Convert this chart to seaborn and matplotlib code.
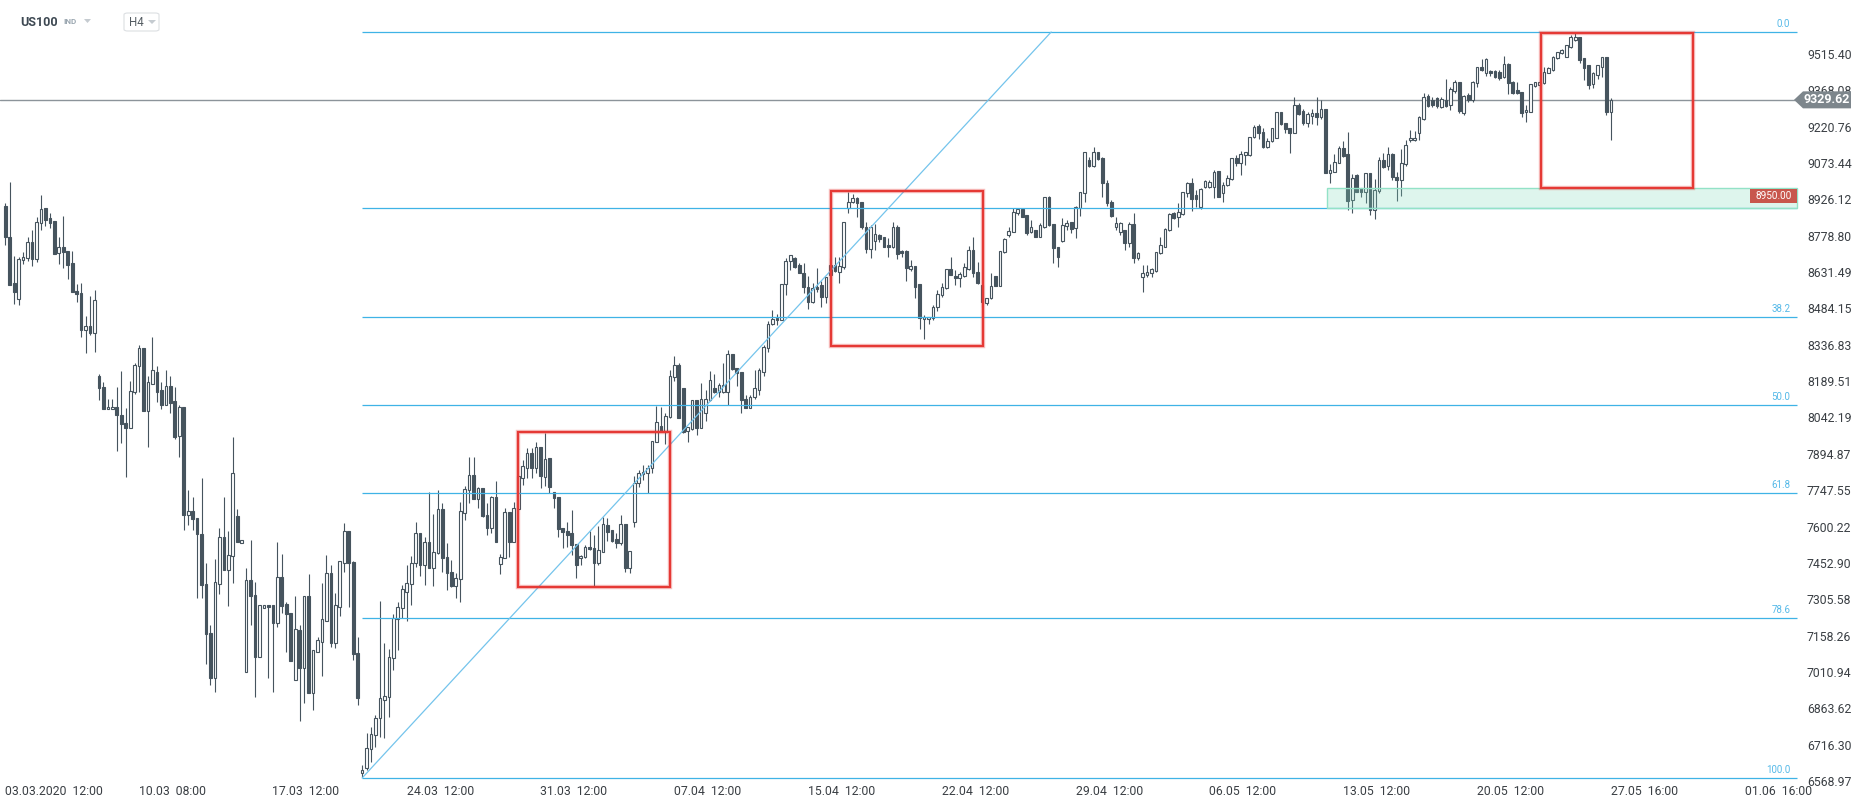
#%%
import seaborn as sns
import matplotlib.pyplot as plt
import matplotlib.transforms as mtransforms
from matplotlib.patches import Rectangle, Polygon, FancyBboxPatch
import numpy as np
import pandas as pd

# %%
# US100 H4 candles (one value per candle)
opens = [
    8898, 8773, 8587, 8523, 8680, 8688, 8753, 8684, 8829, 8890,
    8849, 8837, 8708, 8732, 8716, 8668, 8554, 8546, 8398, 8411,
    8386, 8212, 8164, 8075, 8075, 8083, 8051, 8020, 8001, 8144,
    8249, 8323, 8070, 8179, 8228, 8152, 8091, 8168, 8108, 7966,
    8084, 7647, 7663, 7634, 7570, 7369, 7169, 6985, 7369, 7557,
    7426, 7480, 7642, 7535, 7009, 7385, 7321, 7073, 7272, 7282,
    7282, 7211, 7396, 7286, 7249, 6977, 7181, 7028, 7319, 6927,
    7093, 7134, 7219, 7411, 7127, 7276, 7451, 7582, 7455, 7086,
    6603, 6620, 6697, 6755, 6823, 6897, 6911, 7066, 7224, 7269,
    7336, 7366, 7451, 7573, 7444, 7536, 7431, 7492, 7670, 7475,
    7417, 7361, 7386, 7657, 7748, 7809, 7713, 7755, 7647, 7596,
    7721, 7447, 7474, 7658, 7539, 7672, 7798, 7839, 7897, 7836,
    7924, 7802, 7877, 7742, 7721, 7593, 7584, 7573, 7530, 7471,
    7475, 7516, 7512, 7451, 7498, 7607, 7586, 7550, 7532, 7611,
    7431, 7617, 7775, 7813, 7816, 7836, 7944, 8008, 7989, 8043,
    8205, 8255, 8160, 7989, 7994, 8113, 7998, 8059, 8113, 8160,
    8147, 8144, 8147, 8300, 8241, 8228, 8116, 8079, 8124, 8154,
    8228, 8323, 8421, 8446, 8437, 8582, 8678, 8687, 8660, 8629,
    8573, 8512, 8573, 8579, 8529, 8618, 8659, 8633, 8654, 8890,
    8914, 8931, 8914, 8816, 8725, 8756, 8782, 8772, 8741, 8732,
    8813, 8717, 8718, 8644, 8656, 8582, 8440, 8440, 8444, 8489,
    8539, 8566, 8644, 8617, 8606, 8617, 8644, 8721, 8633, 8579,
    8505, 8525, 8616, 8577, 8712, 8782, 8795, 8872, 8886, 8863,
    8793, 8802, 8775, 8816, 8937, 8826, 8732, 8759, 8818, 8833,
    8809, 8890, 8951, 9086, 9062, 9117, 9093, 8994, 8917, 8816,
    8795, 8802, 8751, 8826, 8687, 8610, 8620, 8627, 8637, 8708,
    8735, 8802, 8870, 8853, 8867, 8951, 8991, 8944, 8897, 8978,
    8978, 8978, 9041, 8951, 8985, 9008, 9093, 9075, 9106, 9106,
    9178, 9224, 9201, 9137, 9164, 9174, 9279, 9237, 9214, 9197,
    9309, 9286, 9234, 9266, 9275, 9261, 9291, 9032, 9039, 9075,
    9133, 9110, 8924, 9025, 8971, 8957, 9032, 8883, 8962, 9086,
    9062, 9110, 9018, 9005, 9070, 9167, 9167, 9194, 9251, 9345,
    9329, 9336, 9302, 9329, 9309, 9365, 9403, 9278, 9349, 9329,
    9399, 9461, 9440, 9448, 9448, 9444, 9421, 9475, 9403, 9370,
    9363, 9279, 9282, 9387, 9390, 9397, 9440, 9451, 9498, 9518,
    9505, 9545, 9572, 9586, 9498, 9471, 9393, 9430, 9464, 9502,
    9282,
]
highs = [
    8913, 8995, 8696, 8693, 8711, 8773, 8801, 8853, 8943, 8890,
    8871, 8837, 8773, 8858, 8716, 8716, 8583, 8587, 8453, 8535,
    8559, 8219, 8187, 8118, 8118, 8166, 8230, 8081, 8190, 8264,
    8336, 8323, 8211, 8368, 8251, 8188, 8235, 8211, 8166, 8092,
    8084, 7748, 7720, 7634, 7797, 7453, 7201, 7467, 7594, 7720,
    7583, 7962, 7671, 7544, 7432, 7546, 7376, 7281, 7281, 7282,
    7282, 7536, 7489, 7296, 7249, 7319, 7201, 7319, 7408, 7100,
    7154, 7370, 7485, 7443, 7330, 7459, 7615, 7582, 7461, 7151,
    6634, 6762, 6786, 6836, 7298, 7127, 7103, 7244, 7296, 7363,
    7444, 7482, 7617, 7573, 7559, 7742, 7651, 7748, 7697, 7532,
    7465, 7411, 7701, 7765, 7881, 7881, 7762, 7755, 7694, 7725,
    7785, 7489, 7674, 7658, 7698, 7810, 7870, 7920, 7917, 7944,
    7924, 7981, 7877, 7742, 7721, 7593, 7620, 7667, 7530, 7485,
    7525, 7584, 7566, 7602, 7640, 7634, 7586, 7573, 7647, 7611,
    7501, 7805, 7829, 7850, 7850, 7948, 8090, 8083, 8059, 8235,
    8291, 8262, 8160, 8005, 8113, 8113, 8181, 8154, 8229, 8219,
    8181, 8262, 8316, 8300, 8241, 8228, 8133, 8133, 8235, 8241,
    8336, 8435, 8478, 8462, 8582, 8687, 8701, 8691, 8667, 8667,
    8616, 8586, 8647, 8597, 8613, 8687, 8691, 8691, 8836, 8958,
    8948, 8937, 8917, 8836, 8822, 8826, 8786, 8775, 8771, 8836,
    8822, 8721, 8721, 8681, 8656, 8582, 8458, 8451, 8498, 8559,
    8589, 8644, 8691, 8640, 8633, 8667, 8739, 8775, 8671, 8579,
    8525, 8627, 8616, 8717, 8768, 8816, 8890, 8890, 8890, 8863,
    8843, 8802, 8832, 8935, 8940, 8826, 8732, 8849, 8843, 8836,
    8899, 8958, 9120, 9097, 9137, 9117, 9097, 9005, 8924, 8853,
    8836, 8802, 8836, 8870, 8714, 8660, 8660, 8647, 8714, 8775,
    8809, 8870, 8876, 8913, 8955, 8998, 9012, 8964, 8971, 9005,
    9005, 9045, 9041, 8998, 9025, 9093, 9106, 9124, 9120, 9180,
    9228, 9232, 9214, 9174, 9214, 9279, 9279, 9237, 9214, 9340,
    9316, 9291, 9282, 9291, 9343, 9329, 9291, 9070, 9110, 9143,
    9164, 9198, 9029, 9029, 8971, 9032, 9032, 9007, 9099, 9113,
    9140, 9113, 9039, 9129, 9167, 9207, 9205, 9266, 9356, 9353,
    9340, 9343, 9340, 9414, 9383, 9410, 9403, 9349, 9356, 9406,
    9464, 9494, 9498, 9451, 9451, 9451, 9507, 9478, 9407, 9403,
    9363, 9309, 9393, 9403, 9410, 9461, 9464, 9507, 9525, 9534,
    9552, 9592, 9600, 9586, 9498, 9471, 9444, 9471, 9505, 9502,
    9336,
]
lows = [
    8741, 8581, 8504, 8499, 8663, 8677, 8656, 8674, 8802, 8817,
    8812, 8703, 8666, 8650, 8605, 8549, 8512, 8369, 8305, 8378,
    8309, 8115, 8078, 8075, 8075, 7908, 7940, 7802, 8001, 8136,
    8144, 8070, 7921, 8176, 8107, 8075, 8091, 8062, 7954, 7884,
    7587, 7608, 7587, 7312, 7312, 7044, 6956, 6929, 7325, 7426,
    7280, 7371, 7536, 7535, 7009, 7203, 6911, 7073, 7272, 6988,
    6931, 7194, 7249, 7093, 7057, 6977, 6813, 6886, 6927, 6858,
    7093, 6996, 7219, 7113, 7109, 7239, 7415, 7276, 7059, 6877,
    6584, 6614, 6647, 6708, 6749, 6742, 6830, 7019, 7100, 7228,
    7219, 7282, 7438, 7401, 7363, 7431, 7361, 7489, 7417, 7343,
    7354, 7309, 7296, 7627, 7697, 7713, 7674, 7638, 7566, 7573,
    7539, 7408, 7471, 7478, 7539, 7670, 7769, 7798, 7796, 7816,
    7755, 7765, 7738, 7674, 7559, 7512, 7519, 7485, 7390, 7444,
    7471, 7505, 7357, 7444, 7498, 7543, 7539, 7512, 7525, 7417,
    7411, 7597, 7762, 7789, 7738, 7819, 7944, 7989, 7935, 8039,
    8192, 8039, 7978, 7944, 7992, 7971, 7998, 8029, 8110, 8143,
    8127, 8143, 8093, 8235, 8171, 8062, 8079, 8079, 8116, 8133,
    8210, 8309, 8417, 8417, 8437, 8539, 8640, 8647, 8626, 8548,
    8481, 8505, 8552, 8491, 8508, 8589, 8632, 8586, 8643, 8872,
    8910, 8856, 8805, 8710, 8687, 8721, 8755, 8732, 8691, 8728,
    8683, 8694, 8597, 8637, 8525, 8400, 8360, 8420, 8437, 8475,
    8532, 8563, 8620, 8579, 8572, 8613, 8640, 8610, 8582, 8491,
    8498, 8521, 8577, 8577, 8708, 8775, 8795, 8863, 8853, 8782,
    8789, 8775, 8772, 8809, 8818, 8670, 8651, 8755, 8802, 8789,
    8768, 8859, 8917, 9059, 9059, 9086, 8935, 8899, 8853, 8802,
    8782, 8721, 8735, 8667, 8681, 8552, 8613, 8610, 8633, 8705,
    8732, 8798, 8845, 8816, 8863, 8935, 8879, 8897, 8886, 8971,
    8971, 8931, 8935, 8917, 8980, 9005, 9062, 9025, 9066, 9102,
    9174, 9170, 9133, 9133, 9160, 9174, 9228, 9197, 9116, 9197,
    9268, 9228, 9221, 9232, 9228, 9251, 9034, 8994, 9039, 9072,
    9097, 8883, 8872, 8957, 8937, 8910, 8863, 8845, 8951, 9052,
    9045, 9005, 8920, 8940, 9062, 9160, 9164, 9167, 9248, 9302,
    9299, 9295, 9295, 9299, 9288, 9359, 9275, 9268, 9322, 9322,
    9383, 9448, 9426, 9426, 9417, 9410, 9417, 9353, 9353, 9353,
    9261, 9241, 9282, 9383, 9374, 9394, 9437, 9448, 9494, 9514,
    9505, 9538, 9569, 9480, 9410, 9372, 9376, 9413, 9424, 9268,
    9167,
]
closes = [
    8773, 8581, 8549, 8684, 8692, 8753, 8684, 8834, 8886, 8844,
    8829, 8706, 8732, 8711, 8661, 8549, 8541, 8398, 8411, 8386,
    8517, 8160, 8078, 8084, 8084, 8051, 8014, 8001, 8148, 8254,
    8323, 8070, 8185, 8233, 8147, 8091, 8168, 8102, 7964, 8084,
    7647, 7663, 7631, 7570, 7365, 7164, 6985, 7374, 7557, 7426,
    7485, 7817, 7536, 7544, 7385, 7317, 7073, 7281, 7281, 7273,
    7211, 7396, 7280, 7244, 7057, 7184, 7028, 7319, 6927, 7100,
    7140, 7224, 7411, 7127, 7282, 7459, 7582, 7451, 7084, 6904,
    6614, 6701, 6758, 6823, 6904, 6913, 7070, 7231, 7273, 7348,
    7370, 7454, 7573, 7444, 7536, 7431, 7496, 7670, 7471, 7411,
    7361, 7390, 7663, 7751, 7809, 7713, 7755, 7643, 7596, 7721,
    7539, 7475, 7658, 7539, 7674, 7805, 7846, 7897, 7836, 7924,
    7805, 7873, 7762, 7715, 7589, 7580, 7566, 7525, 7444, 7481,
    7516, 7508, 7451, 7505, 7611, 7580, 7543, 7532, 7611, 7431,
    7501, 7778, 7816, 7823, 7839, 7948, 8025, 7989, 8048, 8210,
    8254, 8042, 7985, 8005, 8113, 7998, 8116, 8116, 8194, 8147,
    8174, 8174, 8300, 8237, 8224, 8113, 8079, 8127, 8160, 8235,
    8329, 8421, 8440, 8437, 8582, 8678, 8699, 8654, 8627, 8570,
    8512, 8566, 8562, 8529, 8610, 8659, 8636, 8658, 8835, 8917,
    8931, 8910, 8816, 8725, 8813, 8786, 8767, 8735, 8732, 8813,
    8705, 8708, 8647, 8656, 8572, 8444, 8451, 8448, 8489, 8543,
    8570, 8644, 8620, 8606, 8624, 8651, 8721, 8629, 8586, 8509,
    8525, 8577, 8577, 8717, 8766, 8799, 8876, 8886, 8856, 8791,
    8813, 8775, 8822, 8935, 8822, 8728, 8691, 8822, 8832, 8806,
    8894, 8958, 9117, 9062, 9117, 9089, 8991, 8913, 8859, 8832,
    8832, 8751, 8826, 8687, 8708, 8627, 8631, 8643, 8714, 8741,
    8805, 8866, 8849, 8874, 8955, 8994, 8926, 8926, 8967, 9002,
    8998, 9039, 8937, 8985, 9012, 9093, 9075, 9110, 9117, 9178,
    9221, 9197, 9137, 9164, 9214, 9279, 9232, 9210, 9194, 9309,
    9272, 9234, 9271, 9275, 9261, 9291, 9034, 9045, 9079, 9133,
    9102, 8921, 9012, 8957, 8957, 9032, 8883, 8964, 9086, 9059,
    9110, 9018, 9005, 9075, 9147, 9174, 9174, 9259, 9343, 9306,
    9309, 9305, 9332, 9305, 9372, 9403, 9286, 9345, 9329, 9403,
    9461, 9451, 9494, 9437, 9421, 9420, 9475, 9397, 9356, 9359,
    9278, 9288, 9393, 9401, 9403, 9444, 9457, 9502, 9522, 9532,
    9552, 9586, 9583, 9491, 9460, 9390, 9437, 9471, 9502, 9282,
    9330,
]

# axis labels
date_pos = [10.9, 37.4, 67.4, 97.5, 127.5, 157.5, 187.5, 217.5, 247.5, 277.5, 307.5, 337.5, 367.5, 397.5]
date_labels = ['03.03.2020  12:00', '10.03  08:00', '17.03  12:00', '24.03  12:00', '31.03  12:00',
               '07.04  12:00', '15.04  12:00', '22.04  12:00', '29.04  12:00', '06.05  12:00',
               '13.05  12:00', '20.05  12:00', '27.05  16:00', '01.06  16:00']
price_labels = ['6568.97', '6716.30', '6863.62', '7010.94', '7158.26', '7305.58', '7452.90',
                '7600.22', '7747.55', '7894.87', '8042.19', '8189.51', '8336.83', '8484.15',
                '8631.49', '8778.80', '8926.12', '9073.44', '9220.76', '9368.08', '9515.40']

# drawings on the chart
fib_start, fib_end = 80, 234.5          # candle index of the fib anchors
fib_low, fib_high = 6581.0, 9604.6
fib_levels = [0.0, 23.6, 38.2, 50.0, 61.8, 78.6, 100.0]
last_price = 9329.62
zone_start, zone_low, zone_high = 296.3, 8891, 8972
zone_label = 8950.00
boxes = [(115.0, 149.0, 7356, 7984), (185.2, 219.3, 8332, 8959), (344.3, 378.4, 8972, 9600)]

# %%
df = pd.DataFrame(dict(o=opens, h=highs, l=lows, c=closes))
df['i'] = np.arange(len(df))
df['up'] = df.c >= df.o

sns.set_theme(style='white')
plt.rcParams['font.family'] = ['Roboto', 'DejaVu Sans']

W, H = 1866, 811
fig = plt.figure(figsize=(W / 100, H / 100), dpi=100)
ax = fig.add_axes([0, 28 / H, 1800 / W, 783 / H])
ax.set_xlim(-1.19, 402.4)
ax.set_ylim(6560.8, 9734.3)
right_end = 401.7

ink = '#46545e'
blue = '#3fb3e6'

# candles
ax.vlines(df.i, df.l, df.h, color=ink, lw=0.8, zorder=2)
body_lo = np.minimum(df.o, df.c)
body_h = np.maximum((df.c - df.o).abs(), 1.0)
ax.bar(df.i, body_h, bottom=body_lo, width=0.6,
       color=np.where(df.up, 'white', ink), edgecolor=ink, linewidth=0.8, zorder=3)

# current price line
ax.axhline(last_price, color='#8c949a', lw=1.0, zorder=1.5)

# fibonacci retracement
fib_prices = [fib_high - lv / 100 * (fib_high - fib_low) for lv in fib_levels]
ax.hlines(fib_prices, fib_start, right_end, color=blue, lw=0.9, zorder=4)
for lv, p in zip(fib_levels, fib_prices):
    if lv == 23.6:
        continue
    ax.text(400.2, p + 12, f'{lv:.1f}', ha='right', va='bottom', fontsize=7, color='#55b9e8', zorder=5)
sns.lineplot(x=[fib_start, fib_end], y=[fib_low, fib_high], ax=ax, color='#74c4ec', lw=0.9, zorder=4)

# support zone
ax.add_patch(Rectangle((zone_start, zone_low), right_end - zone_start, zone_high - zone_low,
                       facecolor='#7fd8bb', alpha=0.25, edgecolor='none', zorder=6))
ax.add_patch(Rectangle((zone_start, zone_low), right_end - zone_start, zone_high - zone_low,
                       fill=False, edgecolor='#93e2c7', lw=1.0, zorder=6))

# red highlight boxes
for x0, x1, y0, y1 in boxes:
    ax.add_patch(Rectangle((x0, y0), x1 - x0, y1 - y0, fill=False, edgecolor='#e53935',
                           lw=3.2, alpha=0.3, zorder=7))
    ax.add_patch(Rectangle((x0, y0), x1 - x0, y1 - y0, fill=False, edgecolor='#e53935',
                           lw=1.6, zorder=7))

# zone price label
ax.add_patch(Rectangle((391.2, zone_label - 39), right_end - 391.2, 57, facecolor='#c8574d',
                       edgecolor='none', zorder=8))
ax.text((391.2 + right_end) / 2, zone_label - 10, f'{zone_label:.2f}', ha='center', va='center',
        fontsize=7.2, color='white', zorder=9)

# last price tag on the price axis (covers part of the 9368.08 label, as in the original)
tr = mtransforms.blended_transform_factory(fig.transFigure, ax.transData)
hh = 8.5 * 4.053
tag = Polygon([(1794 / W, last_price), (1803 / W, last_price + hh), (1851 / W, last_price + hh),
               (1851 / W, last_price - hh), (1803 / W, last_price - hh)],
              closed=True, transform=tr, facecolor='#7d868c', edgecolor='none', clip_on=False, zorder=10)
ax.add_patch(tag)
ax.text(1827 / W, last_price, f'{last_price:.2f}', transform=tr, ha='center', va='center',
        fontsize=9, fontweight='bold', color='white', zorder=11, clip_on=False)

# axes
ax.set_yticks([float(s) for s in price_labels])
ax.set_yticklabels(price_labels)
ax.yaxis.tick_right()
ax.tick_params(axis='y', length=0, pad=5, labelsize=8.8, labelcolor='#3a3f44')
ax.set_xticks(date_pos)
ax.set_xticklabels(date_labels)
ax.tick_params(axis='x', length=0, pad=1.5, labelsize=8.8, labelcolor='#3a3f44')
sns.despine(ax=ax, left=True, bottom=True, right=True, top=True)
ax.grid(False)

# header
def fx(x):
    return x / W

def fy(y):
    return 1 - y / H

fig.text(fx(20), fy(22), 'US100', fontsize=9, fontweight='bold', color='#3d4852', va='center')
fig.text(fx(63), fy(22), 'IND', fontsize=5.8, fontweight='bold', color='#9aa6b0', va='center')
fig.patches.append(Polygon([(fx(84), fy(19)), (fx(91), fy(19)), (fx(87.5), fy(23))], closed=True,
                           transform=fig.transFigure, facecolor='#c5cbd0', edgecolor='none'))
fig.patches.append(FancyBboxPatch((fx(124), fy(31)), fx(35), 18 / H, boxstyle='round,pad=0,rounding_size=0.002',
                                  transform=fig.transFigure, facecolor='white', edgecolor='#dcdfe2', lw=0.8))
fig.text(fx(129), fy(22), 'H4', fontsize=8.3, color='#555d63', va='center')
fig.patches.append(Polygon([(fx(148), fy(20)), (fx(156), fy(20)), (fx(152), fy(24))], closed=True,
                           transform=fig.transFigure, facecolor='#c5cbd0', edgecolor='none'))

fig.savefig('out.png', dpi=100)
